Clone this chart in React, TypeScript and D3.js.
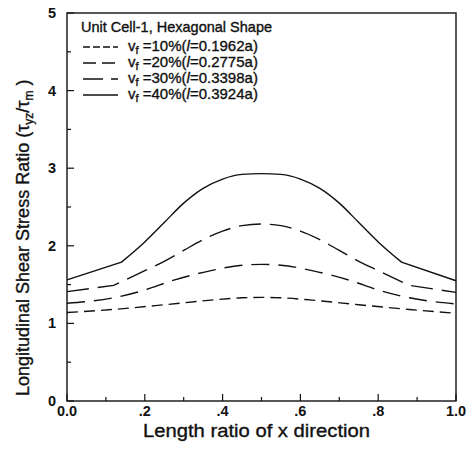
import React from "react";
import * as d3 from "d3";

const xs40 = [0, 0.14, 0.2, 0.25, 0.3, 0.35, 0.4, 0.45, 0.5, 0.55, 0.6, 0.65, 0.7, 0.75, 0.8, 0.86, 1.0];
const ys40 = [1.56, 1.79, 2.05, 2.3, 2.55, 2.74, 2.86, 2.92, 2.93, 2.92, 2.86, 2.74, 2.55, 2.3, 2.05, 1.79, 1.55];
const xs30 = [0, 0.12, 0.2, 0.25, 0.3, 0.35, 0.4, 0.45, 0.5, 0.55, 0.6, 0.65, 0.7, 0.75, 0.8, 0.88, 1.0];
const ys30 = [1.41, 1.49, 1.68, 1.8, 1.94, 2.08, 2.19, 2.26, 2.28, 2.26, 2.19, 2.08, 1.94, 1.8, 1.68, 1.49, 1.4];
const xs20 = [0, 0.12, 0.2, 0.27, 0.37, 0.45, 0.5, 0.55, 0.63, 0.73, 0.8, 0.88, 1.0];
const ys20 = [1.26, 1.33, 1.43, 1.55, 1.68, 1.75, 1.76, 1.75, 1.68, 1.55, 1.43, 1.33, 1.25];
const xs10 = [0, 0.12, 0.25, 0.37, 0.45, 0.5, 0.55, 0.63, 0.75, 0.88, 1.0];
const ys10 = [1.14, 1.18, 1.24, 1.3, 1.33, 1.335, 1.33, 1.3, 1.24, 1.18, 1.13];

const seriesNames = ["10%", "20%", "30%", "40%"];
const seriesL = ["0.1962a", "0.2775a", "0.3398a", "0.3924a"];
const xTicks = [0, 0.2, 0.4, 0.6, 0.8, 1.0];
const xTickLabels = ["0.0", ".2", ".4", ".6", ".8", "1.0"];
const yTicks = [0, 1, 2, 3, 4, 5];

export default function App() {
  const W = 472, H = 458;
  const L = 67, R = 456, T = 13, B = 401;
  const x = d3.scaleLinear().domain([0, 1]).range([L, R]);
  const y = d3.scaleLinear().domain([0, 5]).range([B, T]);
  const lineLin = d3.line<[number, number]>().x(d => x(d[0])).y(d => y(d[1])).curve(d3.curveLinear);
  const lineSm = d3.line<[number, number]>().x(d => x(d[0])).y(d => y(d[1])).curve(d3.curveMonotoneX);
  const kinked = (pts: [number, number][]) => {
    const n = pts.length;
    const a = lineLin(pts.slice(0, 2)) || "";
    const b = (lineSm(pts.slice(1, n - 1)) || "").replace(/^M[^CLM]*/, "");
    const c = (lineLin(pts.slice(n - 2)) || "").replace(/^M[^L]*/, "");
    return a + b + c;
  };
  const series = [
    { xs: xs10, ys: ys10, dash: "11,6", kink: false },
    { xs: xs20, ys: ys20, dash: "18,9", kink: false },
    { xs: xs30, ys: ys30, dash: "22,9", kink: true },
    { xs: xs40, ys: ys40, dash: "", kink: true },
  ];
  const legendDash = ["7,3", "13,6", "20,8", ""];
  const font = "Liberation Sans, Arial, sans-serif";
  const minorX = d3.range(0, 1.0001, 0.1);
  const minorY = d3.range(0, 5.0001, 0.5);
  const ts = { stroke: "#111", strokeWidth: 0.35 } as any;
  return (
    <svg width={W} height={H} style={{ position: "absolute", left: 0, top: 0 }} fontFamily={font}>
      <rect x={0} y={0} width={W} height={H} fill="white" />
      {series.map((s, i) => {
        const pts = s.xs.map((v, j) => [v, s.ys[j]]) as [number, number][];
        const d = s.kink ? kinked(pts) : (lineSm(pts) || "");
        return <path key={i} d={d} fill="none" stroke="#111" strokeWidth={1.4} strokeDasharray={s.dash} />;
      })}
      <rect x={L} y={T} width={R - L} height={B - T} fill="none" stroke="#111" strokeWidth={1.4} />
      {minorX.map((v, i) => (
        <line key={"mx" + i} x1={x(v)} x2={x(v)} y1={B} y2={B - (i % 2 === 0 ? 7 : 4)} stroke="#111" strokeWidth={1.2} />
      ))}
      {minorY.map((v, i) => (
        <line key={"my" + i} x1={L} x2={L + (i % 2 === 0 ? 7 : 4)} y1={y(v)} y2={y(v)} stroke="#111" strokeWidth={1.2} />
      ))}
      {xTicks.map((v, i) => (
        <text key={"xt" + i} x={x(v)} y={416} textAnchor="middle" fontSize={14.5} fontWeight="bold" fill="#111">{xTickLabels[i]}</text>
      ))}
      {yTicks.map((v, i) => (
        <text key={"yt" + i} x={56} y={y(v) + 5} textAnchor="end" fontSize={14.5} fontWeight="bold" fill="#111">{v}</text>
      ))}
      <text x={143} y={437} fontSize={18} fill="#111" textLength={227} lengthAdjust="spacingAndGlyphs" {...ts}>Length ratio of x direction</text>
      <text transform={`translate(29, 396) rotate(-90)`} fontSize={18} fill="#111" {...ts}>
        Longitudinal Shear Stress Ratio (τ<tspan fontSize={12} dy={4}>yz</tspan><tspan dy={-4}>/τ</tspan><tspan fontSize={12} dy={4}>m</tspan><tspan dy={-4}> )</tspan>
      </text>
      <text x={81} y={32} fontSize={14.5} fill="#111" {...ts}>Unit Cell-1, Hexagonal Shape</text>
      {seriesNames.map((n, i) => {
        const yy = 51 + i * 16;
        return (
          <g key={"lg" + i}>
            <line x1={83} x2={118} y1={yy - 4} y2={yy - 4} stroke="#111" strokeWidth={1.3} strokeDasharray={legendDash[i]} />
            <text x={128} y={yy} fontSize={15} fill="#111" {...ts}>
              v<tspan fontSize={11} dy={3}>f</tspan><tspan dy={-3}> ={n}(</tspan><tspan fontStyle="italic">l</tspan>={seriesL[i]})
            </text>
          </g>
        );
      })}
    </svg>
  );
}
